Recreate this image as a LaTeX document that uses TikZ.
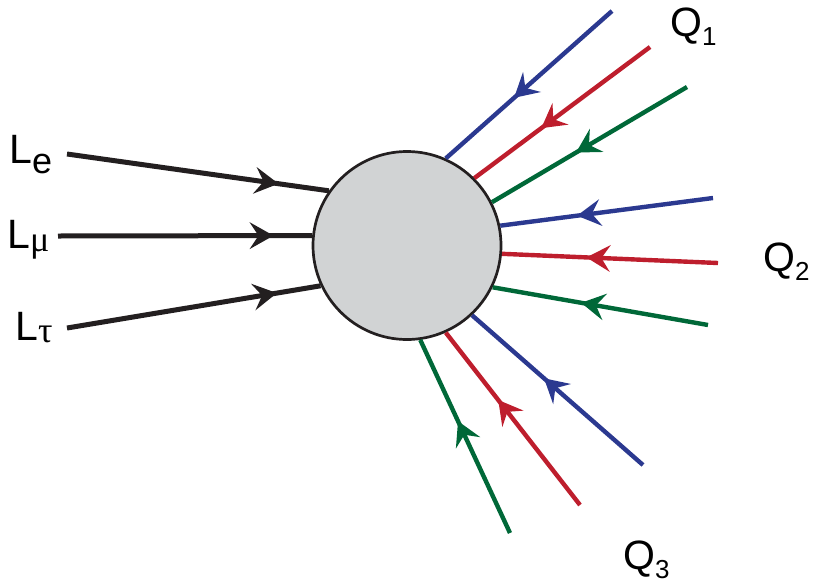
\documentclass[tikz,border=0pt]{standalone}
\usepackage{fontspec}
\setmainfont{Liberation Sans}
\newfontfamily\greekfont{Liberation Serif}
\usepackage{xcolor}
\usetikzlibrary{arrows.meta}
\usetikzlibrary{decorations.markings}
\definecolor{qblue}{RGB}{43,57,144}
\definecolor{qred}{RGB}{190,30,45}
\definecolor{qgreen}{RGB}{0,104,56}
\definecolor{lblack}{RGB}{35,31,32}
\definecolor{blobgray}{RGB}{209,211,212}
\newcommand{\lsub}[2][10pt]{\raisebox{-#1}{\fontsize{36}{36}\selectfont #2}}
\newcommand{\qsub}[1]{\raisebox{-9pt}[\height][0pt]{\fontsize{26}{26}\selectfont #1}}
\tikzset{
    blob/.style={
        draw=lblack,
        circle,
        fill=blobgray,
        line width=2.7pt,
        minimum size=188pt,
        inner sep=0pt
    },
    lbl/.style={
        anchor=base west,
        inner sep=0pt,
        font=\fontsize{41}{50}\selectfont
    },
    midarrow/.style={
        postaction={decorate},
        decoration={markings,
            mark=at position #1 with {\fill (2pt,0pt) -- (-22pt,13.5pt) -- (-13pt,0pt) -- (-22pt,-13.5pt) -- cycle;}}
    },
    lepton/.style={lblack, line width=5pt},
    quark/.style={line width=4.4pt}
}

\begin{document}
\begin{tikzpicture}[x=1pt, y=-1pt]
    \useasboundingbox (0,0) rectangle (816,584);
    % Blob
    \node[blob] (g) at (407,245.5) {};

    % Free ends
    \coordinate (le) at (67,154);
    \coordinate (lm) at (58,236);
    \coordinate (lt) at (67,328);
    \coordinate (q1b) at (612,11);
    \coordinate (q1r) at (650,47);
    \coordinate (q1g) at (687,87);
    \coordinate (q2b) at (713,198);
    \coordinate (q2r) at (718,263);
    \coordinate (q2g) at (708,325);
    \coordinate (q3b) at (643,465);
    \coordinate (q3r) at (580,505);
    \coordinate (q3g) at (510,533);

    % Labels
    \node[lbl] (tle) at (9,163) {L\lsub{e}};
    \node[lbl] (tlm) at (7,248) {L\lsub[3pt]{\greekfont μ}};
    \node[lbl] (tlt) at (15,340) {L\lsub[2pt]{\greekfont τ}};
    \node[lbl] (tq1) at (670,36) {Q\qsub{1}};
    \node[lbl] (tq2) at (763,271) {Q\qsub{2}};
    \node[lbl] (tq3) at (623,569) {Q\qsub{3}};

    % Leptons
    \draw[lepton, midarrow=0.8] (le) -- (g.145.9);
    \draw[lepton, midarrow=0.84] (lm) -- (g.174.2);
    \draw[lepton, midarrow=0.82] (lt) -- (g.205.5);

    % Quarks
    \draw[quark, qblue, midarrow=0.58] (q1b) -- (g.66.5);
    \draw[quark, qred, midarrow=0.61] (q1r) -- (g.45.2);
    \draw[quark, qgreen, midarrow=0.56] (q1g) -- (g.27.1);
    \draw[quark, qblue, midarrow=0.63] (q2b) -- (g.12.4);
    \draw[quark, qred, midarrow=0.6] (q2r) -- (g.-5.8);
    \draw[quark, qgreen, midarrow=0.58] (q2g) -- (g.-26);
    \draw[quark, qblue, midarrow=0.57] (q3b) -- (g.-47.3);
    \draw[quark, qred, midarrow=0.6] (q3r) -- (g.-66.3);
    \draw[quark, qgreen, midarrow=0.57] (q3g) -- (g.-82);
\end{tikzpicture}
\end{document}
